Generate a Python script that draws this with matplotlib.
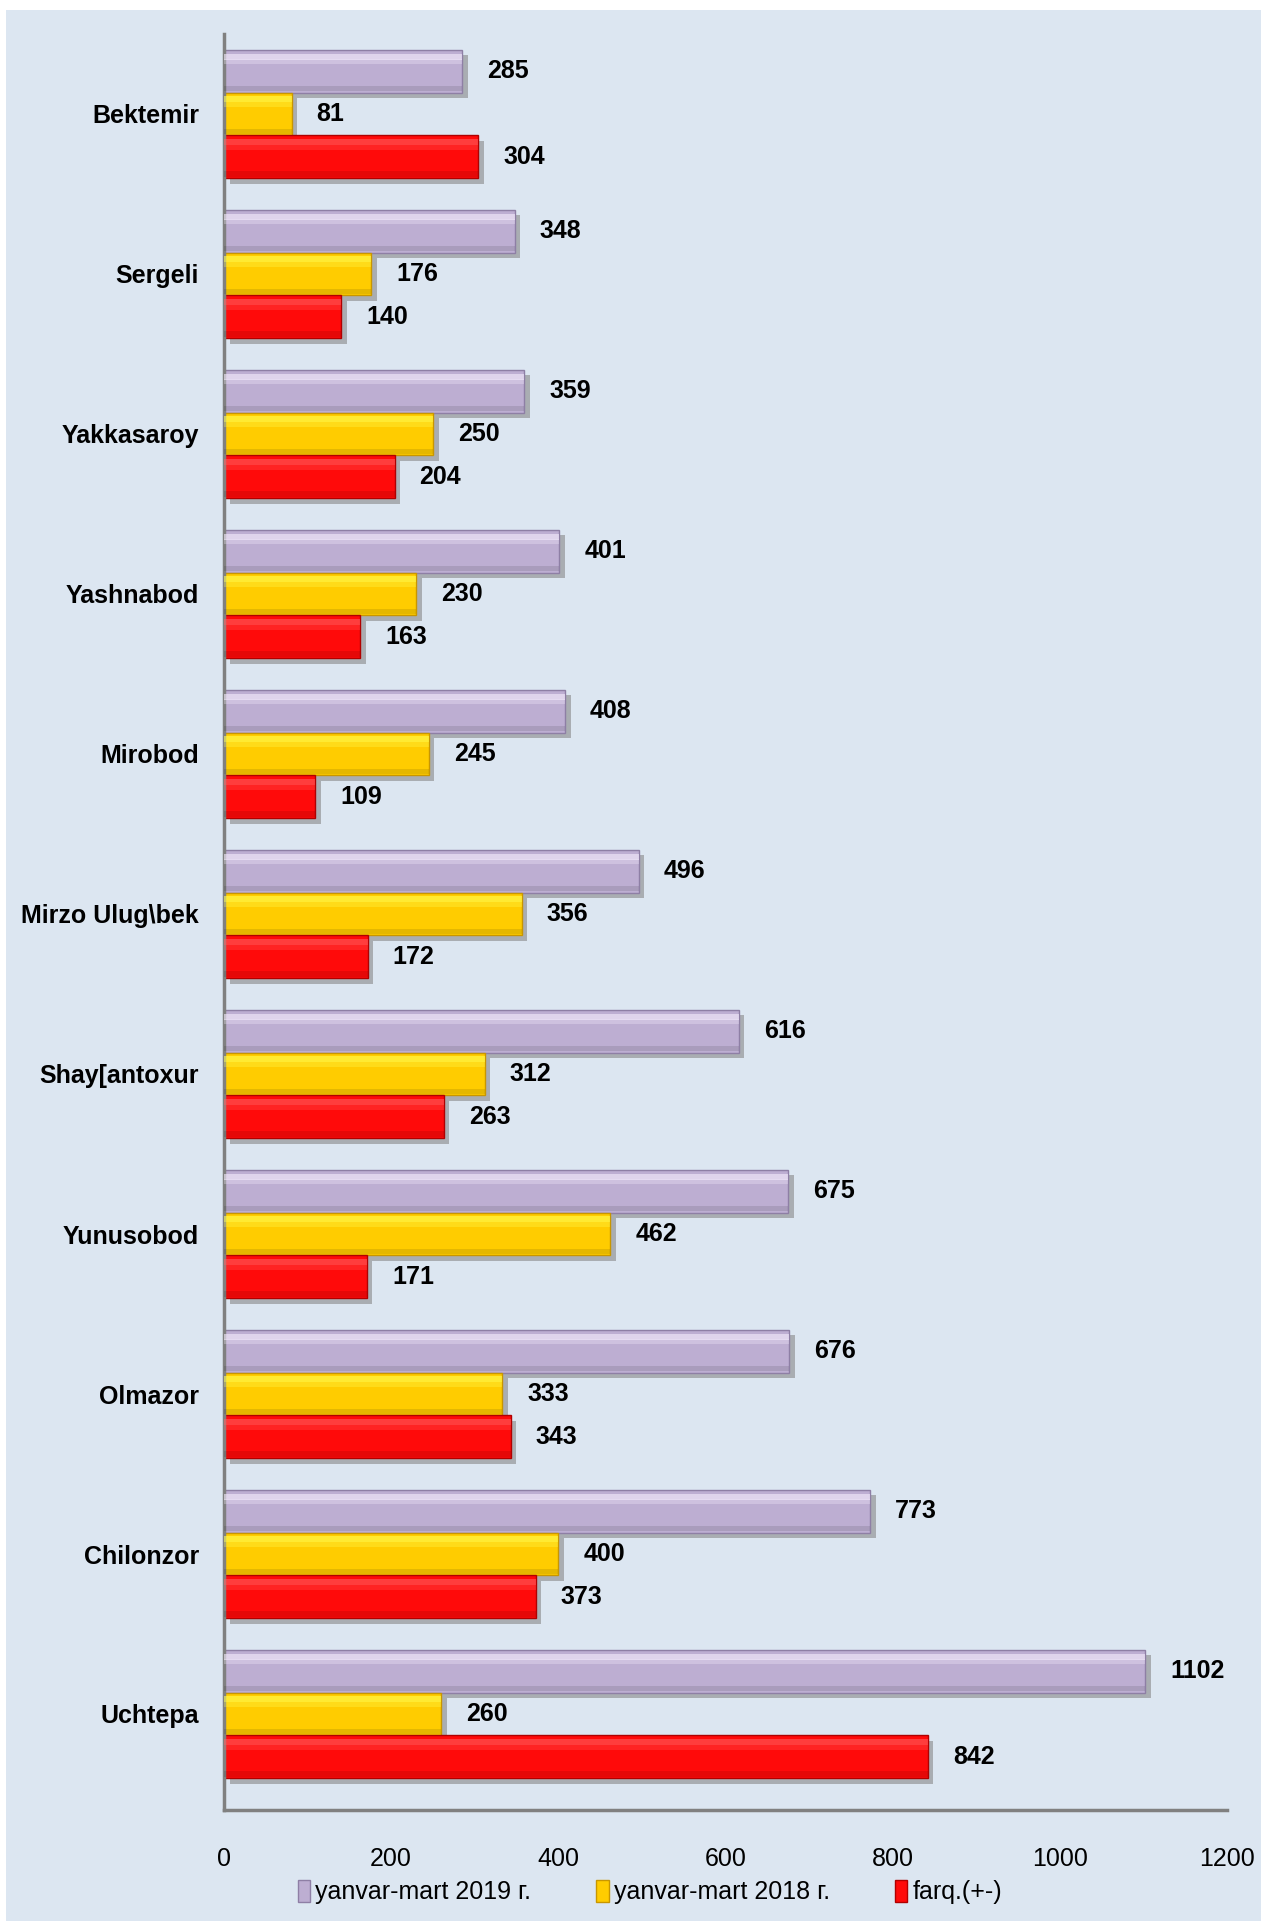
import numpy as np
import matplotlib.pyplot as plt
import matplotlib.patheffects as pe
from matplotlib.patches import Rectangle, Patch

districts = ['Bektemir', 'Sergeli', 'Yakkasaroy', 'Yashnabod', 'Mirobod',
             'Mirzo Ulug\\bek', 'Shay[antoxur', 'Yunusobod', 'Olmazor',
             'Chilonzor', 'Uchtepa']
y2019 = [285, 348, 359, 401, 408, 496, 616, 675, 676, 773, 1102]
y2018 = [81, 176, 250, 230, 245, 356, 312, 462, 333, 400, 260]
farq = [304, 140, 204, 163, 109, 172, 263, 171, 343, 373, 842]

series_names = ['yanvar-mart 2019 г.', 'yanvar-mart 2018 г.', 'farq.(+-)']
colors = ['#BDAED2', '#FFCC00', '#FF0A0A']
highlights = ['#F6EEFF', '#FFFF55', '#FF6060']
edges = ['#8E7FA5', '#C89600', '#B00000']

plt.rcParams['font.family'] = ['Liberation Sans', 'DejaVu Sans']
bg = '#DCE6F1'

fig = plt.figure(figsize=(12.61, 19.21), dpi=100)
fig.patch.set_facecolor('white')
fig.add_artist(Rectangle((6 / 1261, 0), 1, 1 - 10 / 1921, transform=fig.transFigure,
                         facecolor=bg, edgecolor='none', zorder=0))
ax = fig.add_axes([224 / 1261, 1 - 1810 / 1921, 1003 / 1261, (1810 - 34) / 1921])
ax.set_facecolor(bg)

n = len(districts)
pos = np.arange(n)[::-1]  # Bektemir on top
h = 0.268
shadow = [pe.SimplePatchShadow(offset=(4, -4), shadow_rgbFace='#7f7f7f', alpha=0.55), pe.Normal()]

for k, vals in enumerate([y2019, y2018, farq]):
    yy = pos + (1 - k) * h
    bars = ax.barh(yy, vals, height=h, color=colors[k], edgecolor=edges[k],
                   linewidth=1.0, zorder=2)
    for b in bars:
        b.set_path_effects(shadow)
    # bevel: soft highlight on top, darker band at bottom
    ax.barh(yy + h * 0.34, vals, height=h * 0.14, color=highlights[k],
            alpha=0.6, linewidth=0, zorder=3)
    ax.barh(yy + h * 0.22, vals, height=h * 0.12, color=highlights[k],
            alpha=0.3, linewidth=0, zorder=3)
    ax.barh(yy - h * 0.40, vals, height=h * 0.12, color='black',
            alpha=0.10, linewidth=0, zorder=3)
    for v, y in zip(vals, yy):
        ax.annotate(str(v), (v, y), xytext=(18, 0), textcoords='offset points',
                    ha='left', va='center', fontsize=18, fontweight='bold')

ax.set_xlim(0, 1200)
ax.set_ylim(-0.6, n - 1 + 0.5)
ax.set_xticks(np.arange(0, 1201, 200))
ax.set_yticks(pos)
ax.set_yticklabels(districts, fontsize=18, fontweight='bold')
ax.tick_params(axis='y', length=0, pad=18)
ax.tick_params(axis='x', length=0, pad=27, labelsize=18)

for s in ['top', 'right']:
    ax.spines[s].set_visible(False)
for s in ['left', 'bottom']:
    ax.spines[s].set_color('#808080')
    ax.spines[s].set_linewidth(2.5)

handles = [Patch(facecolor=c, edgecolor=e) for c, e in zip(colors, edges)]
fig.legend(handles, series_names, loc='center', bbox_to_anchor=(650 / 1261, 1 - 1892 / 1921),
           ncol=3, frameon=False, fontsize=18, handlelength=0.5, handleheight=1.0,
           handletextpad=0.2, columnspacing=2.6)

fig.savefig('out.png', dpi=100, facecolor=fig.get_facecolor())
